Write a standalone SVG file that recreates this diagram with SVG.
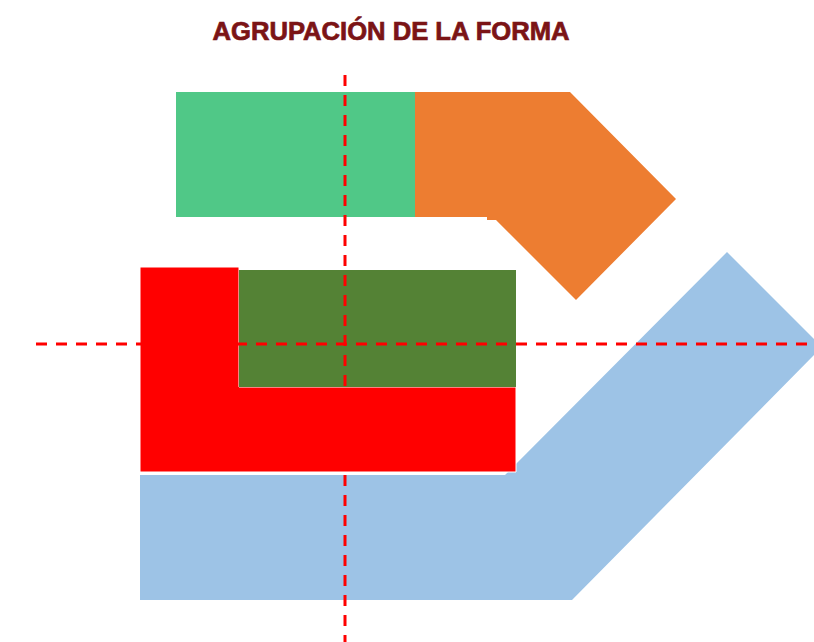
<svg xmlns="http://www.w3.org/2000/svg" width="814" height="642" viewBox="0 0 814 642">
<style>
.axis{stroke:#FF0000;stroke-width:3;stroke-dasharray:11 9;fill:none}
.title{font-family:"Liberation Sans",Arial,sans-serif;font-weight:bold;font-size:25px;fill:#7B1416;stroke:#7B1416;stroke-width:0.7}
</style>
<rect width="814" height="642" fill="#FFFFFF"/>
<text class="title" x="391" y="40" text-anchor="middle" textLength="357" lengthAdjust="spacingAndGlyphs">AGRUPACIÓN DE LA FORMA</text>
<g id="blue">
<polygon points="140,475 505,475 727,252 822,347 572,600 140,600" fill="#9DC3E6"/>
</g>
<g id="orange">
<polygon points="415,92 570,92 676,199 576,300 496,220 487,220 487,217 415,217" fill="#ED7D31"/>
</g>
<g id="green">
<rect x="176" y="92" width="239" height="125" fill="#50C887"/>
</g>
<g id="red">
<polygon points="140,267 239,267 239,387 516,387 516,472 140,472" fill="#FF0000" stroke="#FFFFFF" stroke-width="1"/>
</g>
<g id="darkgreen">
<rect x="239" y="270" width="277" height="117" fill="#548235"/>
</g>
<g id="axes">
<line class="axis" x1="345" y1="75" x2="345" y2="642"/>
<line class="axis" x1="36" y1="344" x2="814" y2="344"/>
</g>
</svg>
